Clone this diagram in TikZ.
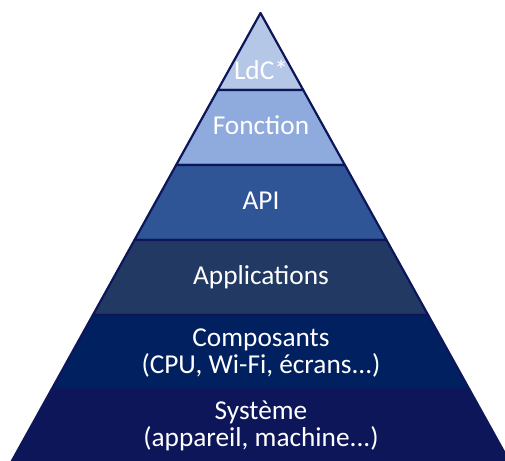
\documentclass[tikz,border=0pt]{standalone}
\usepackage{fontspec}
\setmainfont{Carlito}
\definecolor{outl}{HTML}{0C1658}
\definecolor{cA}{HTML}{B4C7E7}
\definecolor{cB}{HTML}{8FAADC}
\definecolor{cC}{HTML}{2F5597}
\definecolor{cD}{HTML}{223A63}
\definecolor{cE}{HTML}{002060}
\definecolor{cF}{HTML}{0C1658}
\begin{document}
\begin{tikzpicture}[x=1pt,y=-1pt,
  band/.style={draw=outl, line width=2.2pt, line join=round},
  lbl/.style={text=white, font=\fontsize{27.3}{27}\selectfont, align=center, anchor=base, inner sep=0pt}]
\useasboundingbox (0,0) rectangle (505,460);
\clip (0,0) rectangle (505,460);
% apex (260.5,13), half-width slope 0.555
\fill[cA,band] (260.5,13) -- ({260.5+0.555*77},90) -- ({260.5-0.555*77},90) -- cycle;
\foreach \ya/\yb/\c in {90/165/cB,165/240/cC,240/315/cD,315/389/cE,389/475/cF}{
  \fill[\c,band] ({260.5-0.555*(\ya-13)},\ya) -- ({260.5+0.555*(\ya-13)},\ya)
     -- ({260.5+0.555*(\yb-13)},\yb) -- ({260.5-0.555*(\yb-13)},\yb) -- cycle;
}
\node[lbl] (ldc) at (261,79) {LdC*};
\node[lbl] (fonc) at (261,134) {Fonction};
\node[lbl] (api) at (261,209) {API};
\node[lbl] (app) at (261,284) {Applications};
\node[lbl] (comp) at (261,373) {Composants\\(CPU, Wi-Fi, écrans...)};
\node[lbl] (sys) at (261,446) {Système\\(appareil, machine...)};
\end{tikzpicture}
\end{document}
